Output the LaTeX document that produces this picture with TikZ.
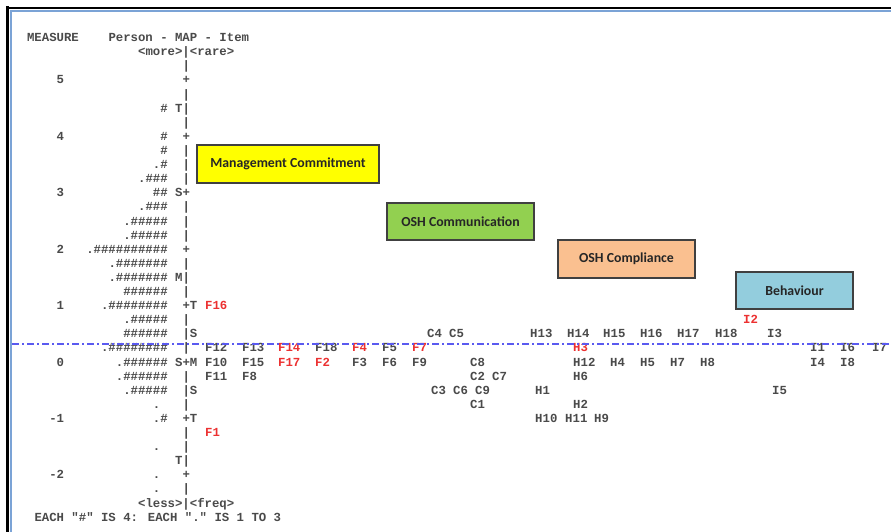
\documentclass[tikz,border=0pt]{standalone}
\usepackage{fontspec}
\newfontfamily\mapfont{Liberation Mono}
\newfontfamily\boxfont{Carlito}
\definecolor{maptext}{HTML}{4A4A4A}
\definecolor{mapred}{HTML}{EC3030}
\definecolor{dashblue}{RGB}{90,90,240}
\definecolor{mcyellow}{HTML}{FFFF00}
\definecolor{comgreen}{HTML}{92D050}
\definecolor{compeach}{HTML}{FAC090}
\definecolor{behblue}{HTML}{93CDDD}
\definecolor{frameblue}{HTML}{7BA3D6}
% column-placed text piece: name, row, column, text
\newcommand\mc[4]{\node[mono] (#1) at ({26.9+7.4*(#3)},{84+14.1*(#2)}) {#4};}
% item: [style] name, row, x
\newcommand\itm[4][mono]{\node[#1] (#2) at (#4,{84+14.1*(#3)}) {#2};}
\begin{document}
\begin{tikzpicture}[x=1pt,y=-1pt,
  mono/.style={font=\mapfont\bfseries\fontsize{12.33}{14}\selectfont, text=maptext, inner sep=0pt, anchor=base west},
  redtxt/.style={mono, text=mapred},
  catbox/.style={draw=black!75, line width=1.1pt, font=\boxfont\bfseries\fontsize{13.8}{15}\selectfont, text=black!85, inner sep=0pt},
  dashline/.style={draw=dashblue, line width=2pt, dash pattern=on 7pt off 3pt on 2pt off 3pt}]
\useasboundingbox (0,0) rectangle (891,532);
\fill[white] (0,0) rectangle (891,532);
% frame
\coordinate (ftl) at (6,7.8); \coordinate (ftr) at (891,7.8);
\coordinate (flt) at (7.6,6.5); \coordinate (flb) at (7.6,532);
\draw[black, line width=2.4pt] (ftl) -- (ftr);
\draw[black, line width=2.4pt] (flt) -- (flb);
\coordinate (btl) at (10,11.2); \coordinate (btr) at (891,11.2);
\coordinate (blt) at (10.9,10.2); \coordinate (blb) at (10.9,532);
\draw[frameblue, line width=1.5pt] (btl) -- (btr);
\draw[frameblue, line width=1.5pt] (blt) -- (blb);
% header
\mc{hmeas}{-3}{0}{MEASURE}
\mc{htitle}{-3}{11}{Person - MAP - Item}
\mc{hmore}{-2}{15}{<more>|<rare>}
% rows
\mc{a-1}{-1}{21}{|}
\mc{n5}{0}{4}{5}\mc{a0}{0}{21}{+}
\mc{a1}{1}{21}{|}
\mc{p2}{2}{18}{\#}\mc{a2}{2}{20}{T|}
\mc{a3}{3}{21}{|}
\mc{n4}{4}{4}{4}\mc{p4}{4}{18}{\#}\mc{a4}{4}{21}{+}
\mc{p5}{5}{18}{\#}\mc{a5}{5}{21}{|}
\mc{p6}{6}{17}{.\#}\mc{a6}{6}{21}{|}
\mc{p7}{7}{15}{.\#\#\#}\mc{a7}{7}{21}{|}
\mc{n3}{8}{4}{3}\mc{p8}{8}{17}{\#\#}\mc{a8}{8}{20}{S+}
\mc{p9}{9}{15}{.\#\#\#}\mc{a9}{9}{21}{|}
\mc{p10}{10}{13}{.\#\#\#\#\#}\mc{a10}{10}{21}{|}
\mc{p11}{11}{13}{.\#\#\#\#\#}\mc{a11}{11}{21}{|}
\mc{n2}{12}{4}{2}\mc{p12}{12}{8}{.\#\#\#\#\#\#\#\#\#\#}\mc{a12}{12}{21}{+}
\mc{p13}{13}{11}{.\#\#\#\#\#\#\#}\mc{a13}{13}{21}{|}
\mc{p14}{14}{11}{.\#\#\#\#\#\#\#}\mc{a14}{14}{20}{M|}
\mc{p15}{15}{13}{\#\#\#\#\#\#}\mc{a15}{15}{21}{|}
\mc{n1}{16}{4}{1}\mc{p16}{16}{10}{.\#\#\#\#\#\#\#\#}\mc{a16}{16}{21}{+T}
\mc{p17}{17}{13}{.\#\#\#\#\#}\mc{a17}{17}{21}{|}
\mc{p18}{18}{13}{\#\#\#\#\#\#}\mc{a18}{18}{21}{|S}
\mc{p19}{19}{10}{.\#\#\#\#\#\#\#\#}\mc{a19}{19}{21}{|}
\mc{n0}{20}{4}{0}\mc{p20}{20}{12}{.\#\#\#\#\#\#}\mc{a20}{20}{20}{S+M}
\mc{p21}{21}{12}{.\#\#\#\#\#\#}\mc{a21}{21}{21}{|}
\mc{p22}{22}{13}{.\#\#\#\#\#}\mc{a22}{22}{21}{|S}
\mc{p23}{23}{17}{.}\mc{a23}{23}{21}{|}
\mc{nm1}{24}{3}{-1}\mc{p24}{24}{17}{.\#}\mc{a24}{24}{21}{+T}
\mc{a25}{25}{21}{|}
\mc{p26}{26}{17}{.}\mc{a26}{26}{21}{|}
\mc{a27}{27}{20}{T|}
\mc{nm2}{28}{3}{-2}\mc{p28}{28}{17}{.}\mc{a28}{28}{21}{+}
\mc{p29}{29}{17}{.}\mc{a29}{29}{21}{|}
\mc{hless}{30}{15}{<less>|<freq>}
\mc{foot}{31}{1}{EACH "\#" IS 4: EACH "." IS 1 TO 3}
% items
\itm[redtxt]{F16}{16}{205}
\itm[redtxt]{I2}{17}{743}
\itm{C4}{18}{427}\itm{C5}{18}{449}
\itm{H13}{18}{530}\itm{H14}{18}{567}\itm{H15}{18}{603}\itm{H16}{18}{640}\itm{H17}{18}{677}\itm{H18}{18}{715}
\itm{I3}{18}{767}
\itm{F12}{19}{205}\itm{F13}{19}{242}\itm[redtxt]{F14}{19}{278}\itm{F18}{19}{315}
\itm[redtxt]{F4}{19}{352}\itm{F5}{19}{382}\itm[redtxt]{F7}{19}{412}
\itm[redtxt]{H3}{19}{573}
\itm{I1}{19}{810}\itm{I6}{19}{840}\itm{I7}{19}{872}
\itm{F10}{20}{205}\itm{F15}{20}{242}\itm[redtxt]{F17}{20}{278}\itm[redtxt]{F2}{20}{315}
\itm{F3}{20}{352}\itm{F6}{20}{382}\itm{F9}{20}{412}
\itm{C8}{20}{470}
\itm{H12}{20}{573}\itm{H4}{20}{610}\itm{H5}{20}{640}\itm{H7}{20}{670}\itm{H8}{20}{700}
\itm{I4}{20}{810}\itm{I8}{20}{840}
\itm{F11}{21}{205}\itm{F8}{21}{242}
\itm{C2}{21}{470}\itm{C7}{21}{492}
\itm{H6}{21}{573}
\itm{C3}{22}{431}\itm{C6}{22}{453}\itm{C9}{22}{475}
\itm{H1}{22}{535}
\itm{I5}{22}{772}
\itm{C1}{23}{470}\itm{H2}{23}{573}
\itm{H10}{24}{535}\itm{H11}{24}{565}\itm{H9}{24}{594}
\itm[redtxt]{F1}{25}{205}
% dashed reference line
\coordinate (dl) at (12,343.5); \coordinate (dr) at (891,343.5);
\draw[dashline] (dl) -- (dr);
% category boxes
\node[catbox, fill=mcyellow, minimum width=182pt, minimum height=38pt] (mgmt) at (288,164) {Management Commitment};
\node[catbox, fill=comgreen, minimum width=147pt, minimum height=37pt] (comm) at (460.5,221.5) {OSH Communication};
\node[catbox, fill=compeach, minimum width=137pt, minimum height=38pt] (compl) at (626.5,259) {OSH Compliance};
\node[catbox, fill=behblue, minimum width=117pt, minimum height=37pt] (behav) at (794.5,290.5) {Behaviour};
\end{tikzpicture}
\end{document}
